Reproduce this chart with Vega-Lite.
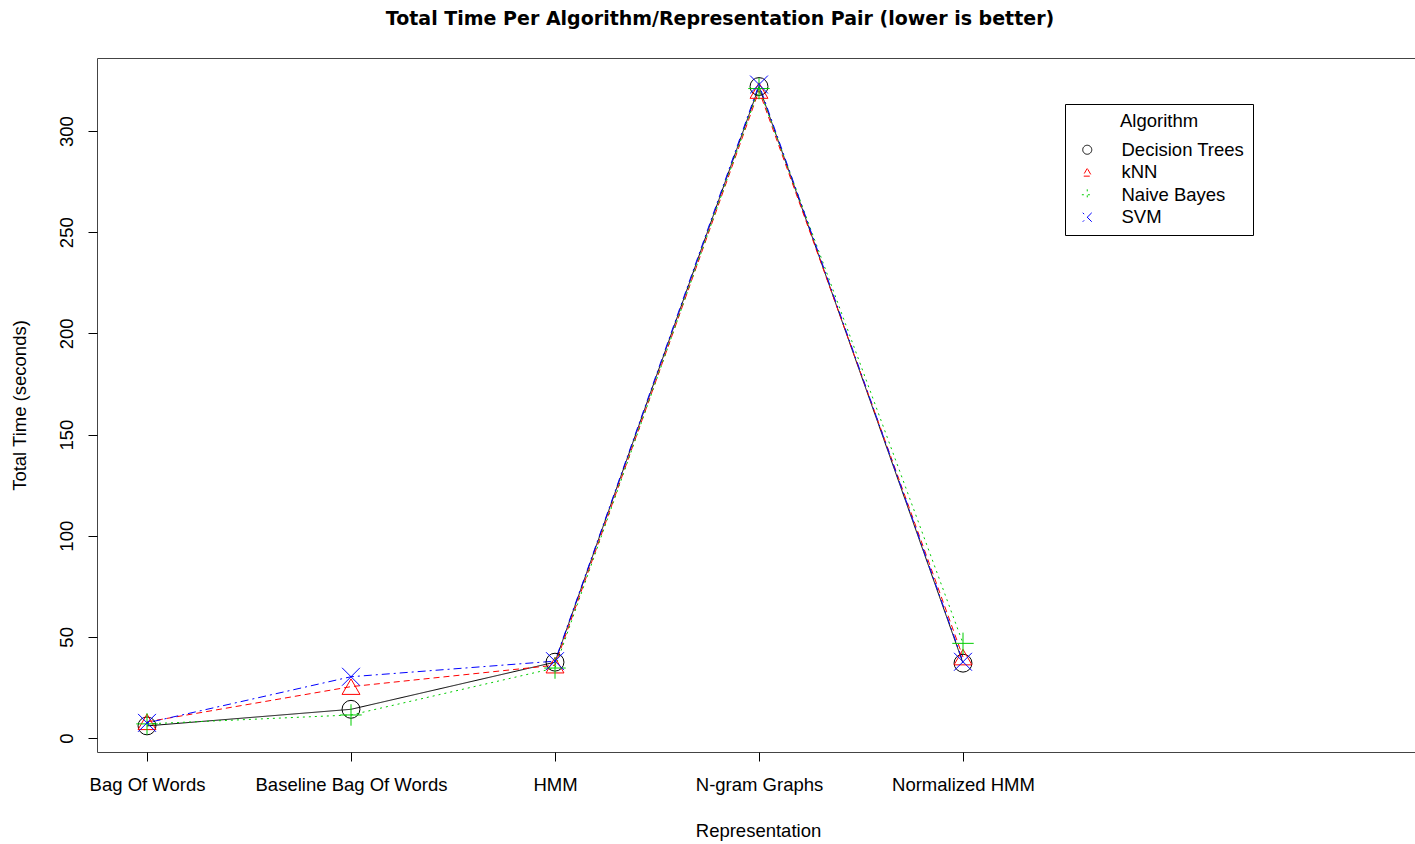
{
  "$schema": "https://vega.github.io/schema/vega-lite/v6.json",
  "width": 1318,
  "height": 694,
  "autosize": {"type": "none"},
  "padding": {"left": 97, "top": 58, "right": 0, "bottom": 92},
  "background": "white",
  "config": {
    "view": {"stroke": "#444", "strokeWidth": 1},
    "font": "Liberation Sans"
  },
  "title": {
    "text": "Total Time Per Algorithm/Representation Pair (lower is better)",
    "font": "DejaVu Sans",
    "fontSize": 19,
    "fontWeight": "bold",
    "color": "black",
    "offset": 29,
    "dx": -36
  },
  "data": {
    "values": [
      {"Representation": "Bag Of Words", "Algorithm": "Decision Trees", "Time": 6},
      {"Representation": "Bag Of Words", "Algorithm": "kNN", "Time": 8},
      {"Representation": "Bag Of Words", "Algorithm": "Naive Bayes", "Time": 7},
      {"Representation": "Bag Of Words", "Algorithm": "SVM", "Time": 7.5},
      {"Representation": "Baseline Bag Of Words", "Algorithm": "Decision Trees", "Time": 14.2},
      {"Representation": "Baseline Bag Of Words", "Algorithm": "kNN", "Time": 25.4},
      {"Representation": "Baseline Bag Of Words", "Algorithm": "Naive Bayes", "Time": 11.4},
      {"Representation": "Baseline Bag Of Words", "Algorithm": "SVM", "Time": 30.3},
      {"Representation": "HMM", "Algorithm": "Decision Trees", "Time": 37.5},
      {"Representation": "HMM", "Algorithm": "kNN", "Time": 36},
      {"Representation": "HMM", "Algorithm": "Naive Bayes", "Time": 34.6},
      {"Representation": "HMM", "Algorithm": "SVM", "Time": 38},
      {"Representation": "N-gram Graphs", "Algorithm": "Decision Trees", "Time": 322},
      {"Representation": "N-gram Graphs", "Algorithm": "kNN", "Time": 320},
      {"Representation": "N-gram Graphs", "Algorithm": "Naive Bayes", "Time": 321},
      {"Representation": "N-gram Graphs", "Algorithm": "SVM", "Time": 323},
      {"Representation": "Normalized HMM", "Algorithm": "Decision Trees", "Time": 37},
      {"Representation": "Normalized HMM", "Algorithm": "kNN", "Time": 40},
      {"Representation": "Normalized HMM", "Algorithm": "Naive Bayes", "Time": 46.8},
      {"Representation": "Normalized HMM", "Algorithm": "SVM", "Time": 37.7}
    ]
  },
  "encoding": {
    "x": {
      "field": "Representation",
      "type": "nominal",
      "sort": ["Bag Of Words", "Baseline Bag Of Words", "HMM", "N-gram Graphs", "Normalized HMM"],
      "scale": {"type": "point", "range": [50, 866], "padding": 0},
      "axis": {
        "title": "Representation",
        "labelAngle": 0,
        "labelLimit": 0,
        "domain": false,
        "grid": false,
        "tickColor": "black",
        "tickSize": 9,
        "labelFontSize": 18.5,
        "labelColor": "black",
        "labelPadding": 14,
        "titleFontSize": 18.5,
        "titleFontWeight": "normal",
        "titleColor": "black",
        "titlePadding": 28,
        "titleX": 661,
        "titleAlign": "center",
        "titleAnchor": "start"
      }
    },
    "y": {
      "field": "Time",
      "type": "quantitative",
      "scale": {"domain": [-6.9, 336.1], "nice": false, "zero": false},
      "axis": {
        "title": "Total Time (seconds)",
        "values": [0, 50, 100, 150, 200, 250, 300],
        "labelAngle": -90,
        "domain": false,
        "grid": false,
        "tickColor": "black",
        "tickSize": 9,
        "labelFontSize": 18.5,
        "labelColor": "black",
        "labelPadding": 12,
        "labelFlush": false,
        "labelOverlap": false,
        "titleFontSize": 18.5,
        "titleFontWeight": "normal",
        "titleColor": "black",
        "titlePadding": 28
      }
    },
    "color": {
      "field": "Algorithm",
      "type": "nominal",
      "scale": {
        "domain": ["Decision Trees", "kNN", "Naive Bayes", "SVM"],
        "range": ["#000000", "#FF0000", "#00CD00", "#0000FF"]
      },
      "legend": {
        "orient": "none",
        "legendX": 968,
        "legendY": 46,
        "title": "Algorithm",
        "titleFontSize": 18.5,
        "titleFontWeight": "normal",
        "titleColor": "black",
        "titleAnchor": "middle",
        "titlePadding": 10,
        "labelFontSize": 18.5,
        "labelColor": "black",
        "strokeColor": "black",
        "padding": 8,
        "rowPadding": 3.5,
        "symbolSize": 81,
        "symbolStrokeWidth": 1,
        "symbolDash": [1, 0],
        "symbolOffset": 5,
        "labelOffset": 25
      }
    }
  },
  "layer": [
    {
      "mark": {"type": "line", "strokeWidth": 1},
      "encoding": {
        "strokeDash": {
          "field": "Algorithm",
          "type": "nominal",
          "scale": {
            "domain": ["Decision Trees", "kNN", "Naive Bayes", "SVM"],
            "range": [[1, 0], [6, 4], [2, 4], [2, 4, 8, 4]]
          },
          "legend": null
        }
      }
    },
    {
      "mark": {"type": "point", "filled": false, "strokeWidth": 1, "size": 320, "opacity": 1},
      "encoding": {
        "shape": {
          "field": "Algorithm",
          "type": "nominal",
          "scale": {
            "domain": ["Decision Trees", "kNN", "Naive Bayes", "SVM"],
            "range": ["circle", "triangle-up", "M-1.2,0L1.2,0M0,-1.2L0,1.2", "M-1,-1L1,1M-1,1L1,-1"]
          },
          "legend": null
        }
      }
    }
  ]
}
